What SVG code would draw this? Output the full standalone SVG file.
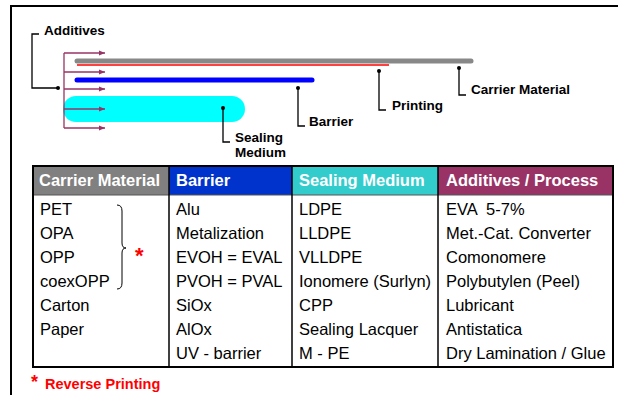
<svg xmlns="http://www.w3.org/2000/svg" width="618" height="395" viewBox="0 0 618 395">
<style>
.lbl{font-family:"Liberation Sans",Arial,sans-serif;font-weight:bold;font-size:13.5px;fill:#000}
.hd{font-family:"Liberation Sans",Arial,sans-serif;font-weight:bold;font-size:16.5px;fill:#fff}
.bd{font-family:"Liberation Sans",Arial,sans-serif;font-size:16.5px;fill:#000;white-space:pre}
.red{font-family:"Liberation Sans",Arial,sans-serif;font-weight:bold;fill:#ff0000}
.lead{fill:none;stroke:#000;stroke-width:1.3}
.arr{fill:none;stroke:#993366;stroke-width:1.3}
.grid{stroke:#000;stroke-width:1.5}
</style>
<defs>
<marker id="ah" markerWidth="6" markerHeight="6" refX="6" refY="3" orient="auto" markerUnits="userSpaceOnUse">
<path d="M0,0.5 L6,3 L0,5.5 Z" fill="#993366"/>
</marker>
</defs>
<rect width="618" height="395" fill="#fff"/>
<rect x="11" y="6" width="620" height="400" fill="none" stroke="#000" stroke-width="2"/>

<g id="layers">
<line x1="77" y1="61" x2="471" y2="61" stroke="#888888" stroke-width="5" stroke-linecap="round"/>
<line x1="77" y1="65" x2="389" y2="65" stroke="#ff0000" stroke-width="1.5"/>
<line x1="77" y1="80" x2="312" y2="80" stroke="#0000ff" stroke-width="5" stroke-linecap="round"/>
<rect x="63" y="96" width="182" height="26" rx="13" ry="13" fill="#00ffff"/>
</g>

<g id="connectors">
<path class="arr" d="M64,53 V128"/>
<path class="arr" d="M64,53 H105" marker-end="url(#ah)"/>
<path class="arr" d="M64,72 H105" marker-end="url(#ah)"/>
<path class="arr" d="M64,89 H105" marker-end="url(#ah)"/>
<path class="arr" d="M64,109 H105" marker-end="url(#ah)"/>
<path class="arr" d="M64,128 H105" marker-end="url(#ah)"/>
<path class="lead" d="M39,34 H32 V88 H58"/>
<circle cx="58" cy="88" r="2" fill="#000"/>
<path class="lead" d="M223,108 V142 H230"/>
<circle cx="223" cy="108" r="2" fill="#000"/>
<path class="lead" d="M298,88 V126 H305"/>
<circle cx="298" cy="88" r="2" fill="#000"/>
<path class="lead" d="M379,71 V110 H386"/>
<circle cx="379" cy="71" r="2" fill="#000"/>
<path class="lead" d="M459,68 V95 H466"/>
<circle cx="459" cy="68" r="2" fill="#000"/>
</g>

<g id="label-additives"><text class="lbl" x="44" y="35">Additives</text></g>
<g id="label-sealing"><text class="lbl" x="235" y="142">Sealing</text><text class="lbl" x="235" y="157">Medium</text></g>
<g id="label-barrier"><text class="lbl" x="309" y="126">Barrier</text></g>
<g id="label-printing"><text class="lbl" x="392" y="110">Printing</text></g>
<g id="label-carrier"><text class="lbl" x="471" y="94">Carrier Material</text></g>

<g id="table">
<rect x="33" y="166" width="136" height="29" fill="#808080"/>
<rect x="169" y="166" width="123" height="29" fill="#0033cc"/>
<rect x="292" y="166" width="146" height="29" fill="#33cccc"/>
<rect x="438" y="166" width="175" height="29" fill="#993366"/>
<line x1="33" y1="195" x2="613" y2="195" stroke="#555" stroke-width="1"/>
<line class="grid" x1="169" y1="166" x2="169" y2="367"/>
<line class="grid" x1="292" y1="166" x2="292" y2="367"/>
<line class="grid" x1="438" y1="166" x2="438" y2="367"/>
<rect x="33" y="166" width="580" height="201" fill="none" stroke="#000" stroke-width="2"/>

<text class="hd" x="39" y="186">Carrier Material</text>
<text class="hd" x="176" y="186">Barrier</text>
<text class="hd" x="299" y="186">Sealing Medium</text>
<text class="hd" x="446" y="186">Additives / Process</text>

<text class="bd" x="40" y="215">PET</text>
<text class="bd" x="40" y="239">OPA</text>
<text class="bd" x="40" y="263">OPP</text>
<text class="bd" x="40" y="287">coexOPP</text>
<text class="bd" x="40" y="311">Carton</text>
<text class="bd" x="40" y="335">Paper</text>

<text class="bd" x="176" y="215">Alu</text>
<text class="bd" x="176" y="239">Metalization</text>
<text class="bd" x="176" y="263">EVOH = EVAL</text>
<text class="bd" x="176" y="287">PVOH = PVAL</text>
<text class="bd" x="176" y="311">SiOx</text>
<text class="bd" x="176" y="335">AlOx</text>
<text class="bd" x="176" y="359">UV - barrier</text>

<text class="bd" x="299" y="215">LDPE</text>
<text class="bd" x="299" y="239">LLDPE</text>
<text class="bd" x="299" y="263">VLLDPE</text>
<text class="bd" x="299" y="287">Ionomere (Surlyn)</text>
<text class="bd" x="299" y="311">CPP</text>
<text class="bd" x="299" y="335">Sealing Lacquer</text>
<text class="bd" x="299" y="359">M - PE</text>

<text class="bd" x="446" y="215">EVA  5-7%</text>
<text class="bd" x="446" y="239">Met.-Cat. Converter</text>
<text class="bd" x="446" y="263">Comonomere</text>
<text class="bd" x="446" y="287">Polybutylen (Peel)</text>
<text class="bd" x="446" y="311">Lubricant</text>
<text class="bd" x="446" y="335">Antistatica</text>
<text class="bd" x="446" y="359">Dry Lamination / Glue</text>

<path d="M117,205 Q122,205 122,211 V243 Q122,248 126,248 Q122,248 122,253 V283 Q122,289 117,289" fill="none" stroke="#000" stroke-width="1"/>
<text class="red" x="135" y="263" font-size="22">*</text>
</g>

<g id="footer">
<text class="red" x="31" y="388" font-size="18">*</text>
<text class="red" x="45" y="389" font-size="14.5">Reverse Printing</text>
</g>
</svg>
